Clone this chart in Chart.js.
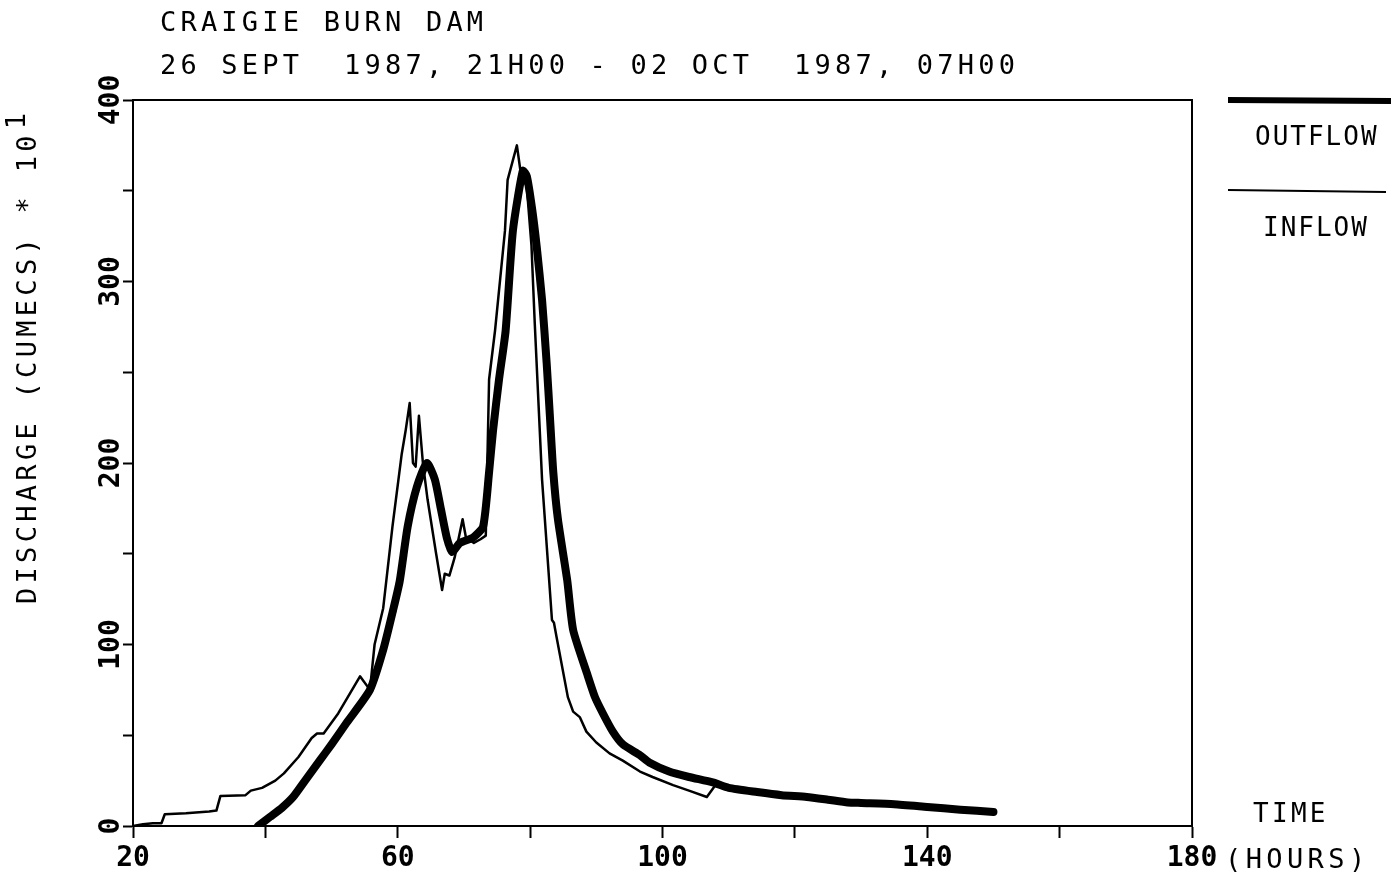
<!DOCTYPE html>
<html>
<head>
<meta charset="utf-8">
<script src="https://cdn.jsdelivr.net/npm/chart.js@4.4.0/dist/chart.umd.min.js"></script>
<style>
    html, body { margin: 0; padding: 0; background: #fff; }
    #graficoPresa { display: block; }
</style>
</head>
<body>
<canvas id="graficoPresa" width="1391" height="877"></canvas>
<script>
// inflow (thin line), hours and discharge (cumecs * 10)
const inflowHours = [20, 21.5, 23, 24.3, 24.8, 28, 31.5, 32.6, 33.2, 37, 37.8, 39.5, 41.5, 42.8, 45, 47, 47.8, 48.8, 51, 54.3, 55.8, 56.5, 57.8, 59.2, 60.6, 61.2, 61.8, 62.3, 62.7, 63.2, 63.8, 64.5, 65.8, 66.7, 67.1, 67.8, 68.6, 69.8, 70.3, 71.5, 72.5, 73.3, 73.5, 73.8, 74.7, 75.9, 76.2, 76.6, 78.0, 78.5, 79.5, 80.2, 80.7, 81.8, 83.3, 83.6, 84.0, 85.7, 86.5, 87.5, 88.5, 90, 92, 94, 96.6, 98.5, 101.6, 104, 106.7, 107.9];
const inflowValues = [0, 1, 1.5, 1.5, 6.5, 7, 8, 8.5, 16.5, 17, 19.5, 21, 25, 29, 38, 48.5, 51, 51, 62, 82.5, 75, 100, 120, 165, 205, 218, 233, 200, 198, 226, 200, 180, 150, 130, 139, 138, 148, 169, 159, 156, 158, 160, 194, 246, 273, 317, 328, 356, 375, 362, 352, 320, 277, 191, 113.5, 112, 104, 71, 63, 60, 52, 46, 40, 36, 30, 27, 22.5, 19.5, 16, 22];

// outflow (thick line)
const outflowHours = [38.9, 40.7, 42.5, 44.2, 46, 48.2, 50, 52.3, 55.8, 57.8, 59.3, 60.3, 61.5, 62.9, 64.4, 65.6, 66.5, 67.4, 68.2, 69.4, 71.4, 72.9, 73.8, 74.4, 75.3, 76.3, 77.4, 78.9, 79.5, 80.3, 81, 81.8, 82.5, 83, 83.5, 84.2, 85.6, 86.5, 88.6, 89.8, 91, 92.5, 94, 96.6, 98, 101, 104, 107.6, 110, 114.3, 118, 121.8, 125, 128, 130, 135, 140, 145, 150];
const outflowValues = [0, 5, 10, 16, 25, 36, 45, 57, 75, 97, 119, 135, 165, 187, 200, 191, 175, 159, 151, 156, 159, 165, 195, 218, 246, 273, 328, 361, 358, 340, 319, 290, 255, 225, 195, 169, 135.5, 108, 84, 71, 62, 52, 45, 39, 35, 30, 27, 24, 21, 18.7, 17, 16, 14.5, 13, 12.7, 12, 10.5, 9, 7.7];

const xTickLabels = [20, 60, 100, 140, 180];
const yTickLabels = [0, 100, 200, 300, 400];

const fuente = '"DejaVu Sans Mono", monospace';

const puntos = (horas, valores) => horas.map((h, i) => ({ x: h, y: valores[i] }));

// texts and legend drawn around the plot
const textosExtra = {
    id: "textosExtra",
    afterDraw(chart) {
        const ctx = chart.ctx;
        const escalaY = chart.scales.y;
        ctx.save();
        ctx.fillStyle = "#000";
        ctx.strokeStyle = "#000";

        // title
        ctx.font = `27px ${fuente}`;
        ctx.letterSpacing = "4.2px";
        ctx.textAlign = "left";
        ctx.textBaseline = "alphabetic";
        ctx.fillText("CRAIGIE BURN DAM", 160, 31);
        ctx.fillText("26 SEPT  1987, 21H00 - 02 OCT  1987, 07H00", 160, 74);

        // y axis title, rotated
        ctx.save();
        ctx.translate(29, 604);
        ctx.rotate(-Math.PI / 2);
        ctx.textBaseline = "middle";
        ctx.letterSpacing = "4.3px";
        const tituloY = "DISCHARGE (CUMECS) * 10";
        ctx.fillText(tituloY, 0, 0);
        const ancho = ctx.measureText(tituloY).width;
        ctx.fillText("1", ancho + 2, -11);
        ctx.restore();

        // y tick labels, rotated
        ctx.letterSpacing = "0px";
        ctx.font = `bold 28px ${fuente}`;
        yTickLabels.forEach((v) => {
            const py = escalaY.getPixelForValue(v);
            ctx.save();
            ctx.translate(112, py);
            ctx.rotate(-Math.PI / 2);
            ctx.textAlign = "center";
            ctx.textBaseline = "middle";
            ctx.fillText(String(v), 0, 0);
            ctx.restore();
        });

        // legend
        ctx.lineCap = "butt";
        ctx.lineWidth = 6;
        ctx.beginPath();
        ctx.moveTo(1228, 100);
        ctx.lineTo(1391, 101);
        ctx.stroke();
        ctx.lineWidth = 2;
        ctx.beginPath();
        ctx.moveTo(1228, 190);
        ctx.lineTo(1386, 192);
        ctx.stroke();

        ctx.font = `26px ${fuente}`;
        ctx.letterSpacing = "2px";
        ctx.textAlign = "left";
        ctx.textBaseline = "alphabetic";
        ctx.fillText("OUTFLOW", 1255, 145);
        ctx.fillText("INFLOW", 1263, 236);

        ctx.letterSpacing = "3.3px";
        ctx.fillText("TIME", 1253, 822);
        ctx.font = `27px ${fuente}`;
        ctx.letterSpacing = "4.4px";
        ctx.fillText("(HOURS)", 1225, 868);

        ctx.restore();
    },
};

const dataGrafico = {
    datasets: [
        {
            label: "INFLOW",
            data: puntos(inflowHours, inflowValues),
            borderColor: "#000",
            borderWidth: 2.5,
            pointRadius: 0,
            tension: 0,
            borderJoinStyle: "round",
        },
        {
            label: "OUTFLOW",
            data: puntos(outflowHours, outflowValues),
            borderColor: "#000",
            borderWidth: 8,
            pointRadius: 0,
            tension: 0.2,
            borderJoinStyle: "round",
            borderCapStyle: "round",
        },
    ],
};

const configGrafico = {
    type: "line",
    data: dataGrafico,
    options: {
        responsive: false,
        animation: false,
        devicePixelRatio: 1,
        layout: {
            padding: { top: 100, right: 199, left: 0, bottom: 0 },
        },
        plugins: {
            legend: { display: false },
            tooltip: { enabled: false },
        },
        scales: {
            x: {
                type: "linear",
                position: "bottom",
                min: 20,
                max: 180,
                afterFit: (scale) => { scale.height = 51; },
                ticks: {
                    stepSize: 20,
                    maxRotation: 0,
                    autoSkip: false,
                    color: "#000",
                    padding: 4,
                    font: { family: fuente, size: 28, weight: "bold" },
                    callback: (v) => (xTickLabels.includes(v) ? String(v) : ""),
                },
                grid: {
                    drawOnChartArea: false,
                    tickLength: 12,
                    tickColor: "#000",
                    tickWidth: 2,
                },
                border: { color: "#000", width: 2 },
            },
            y: {
                position: "left",
                min: 0,
                max: 400,
                afterFit: (scale) => { scale.width = 133; },
                ticks: {
                    stepSize: 50,
                    display: false,
                },
                grid: {
                    drawOnChartArea: false,
                    tickLength: 10,
                    tickColor: "#000",
                    tickWidth: 2,
                },
                border: { color: "#000", width: 2 },
            },
            arriba: {
                type: "linear",
                position: "top",
                min: 20,
                max: 180,
                afterFit: (scale) => { scale.height = 0; },
                ticks: { display: false },
                grid: { drawOnChartArea: false, drawTicks: false },
                border: { color: "#000", width: 2 },
            },
            derecha: {
                type: "linear",
                position: "right",
                min: 0,
                max: 400,
                afterFit: (scale) => { scale.width = 0; },
                ticks: { display: false },
                grid: { drawOnChartArea: false, drawTicks: false },
                border: { color: "#000", width: 2 },
            },
        },
    },
    plugins: [textosExtra],
};

const chartPresa = new Chart(document.getElementById("graficoPresa"), configGrafico);
</script>
</body>
</html>
